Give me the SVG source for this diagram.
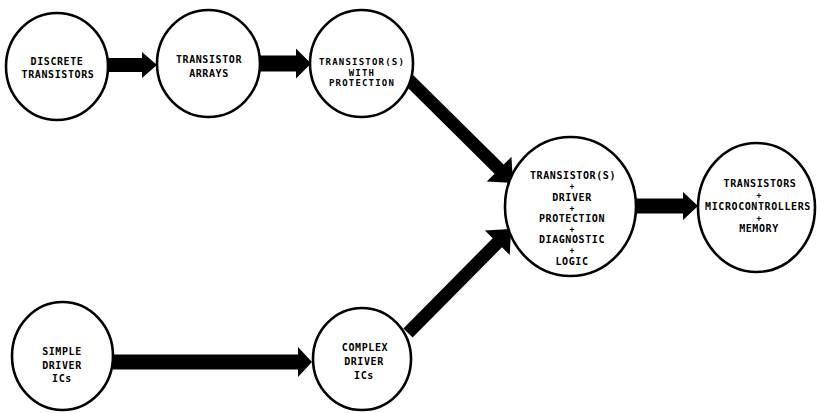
<svg xmlns="http://www.w3.org/2000/svg" width="817" height="413" viewBox="0 0 817 413">
<style>
.node{fill:#fff;stroke:#000;stroke-width:2.6}
.lbl{font-family:"DejaVu Sans Mono","Liberation Mono",monospace;font-weight:bold;font-size:10px;letter-spacing:0.6px;fill:#000;text-anchor:middle}
.sm{font-size:9px;letter-spacing:1.2px}
.plus{font-size:8px;letter-spacing:0}
.arr{fill:#000;stroke:none}
</style>
<rect width="817" height="413" fill="#fff"/>
<g id="connectors">
<polygon class="arr" points="108,58 142,58 142,52 157,65 142,78 142,72 108,72"/>
<polygon class="arr" points="260,55.5 296,55.5 296,48.5 311,63.5 296,78.5 296,71.5 260,71.5"/>
<polygon class="arr" points="113,354.5 298,354.5 298,347 312,362 298,377 298,369.5 113,369.5"/>
<polygon class="arr" points="634,198.5 683,198.5 683,192 698,206 683,220 683,213.5 634,213.5"/>
<g transform="translate(406,77) rotate(44.7)">
<polygon class="arr" points="0,-6.5 131,-6.5 131,-17.5 150.6,0 131,17.5 131,6.5 0,6.5"/>
</g>
<g transform="translate(408,333) rotate(-45.3)">
<polygon class="arr" points="0,-6.5 127,-6.5 127,-17.5 146.4,0 127,17.5 127,6.5 0,6.5"/>
</g>
</g>
<g id="n-discrete">
<ellipse class="node" cx="57" cy="66.5" rx="51" ry="53.5"/>
<text class="lbl" x="57" y="65">DISCRETE</text>
<text class="lbl" x="58" y="77.5">TRANSISTORS</text>
</g>
<g id="n-arrays">
<ellipse class="node" cx="208.5" cy="63.5" rx="51.5" ry="53.5"/>
<text class="lbl" x="209" y="63">TRANSISTOR</text>
<text class="lbl" x="209" y="76.5">ARRAYS</text>
</g>
<g id="n-protection">
<ellipse class="node" cx="361.5" cy="63.5" rx="51.5" ry="53.5"/>
<text class="lbl sm" x="362" y="65">TRANSISTOR(S)</text>
<text class="lbl sm" x="362" y="75.5">WITH</text>
<text class="lbl sm" x="362" y="86">PROTECTION</text>
</g>
<g id="n-integrated">
<ellipse class="node" cx="570.5" cy="206.5" rx="65.5" ry="69.5"/>
<text class="lbl" x="573" y="179">TRANSISTOR(S)</text>
<text class="lbl plus" x="572" y="189">+</text>
<text class="lbl" x="572" y="201">DRIVER</text>
<text class="lbl plus" x="572" y="211">+</text>
<text class="lbl" x="572" y="221.5">PROTECTION</text>
<text class="lbl plus" x="572" y="231.5">+</text>
<text class="lbl" x="572" y="242.5">DIAGNOSTIC</text>
<text class="lbl plus" x="572" y="252.5">+</text>
<text class="lbl" x="572" y="265">LOGIC</text>
</g>
<g id="n-micro">
<ellipse class="node" cx="756.5" cy="207.5" rx="58.5" ry="64.5"/>
<text class="lbl" x="760" y="187">TRANSISTORS</text>
<text class="lbl plus" x="759" y="198">+</text>
<text class="lbl" x="758" y="210">MICROCONTROLLERS</text>
<text class="lbl plus" x="759" y="221">+</text>
<text class="lbl" x="759" y="232">MEMORY</text>
</g>
<g id="n-simple">
<ellipse class="node" cx="62.5" cy="356" rx="50.5" ry="54"/>
<text class="lbl" x="62" y="355">SIMPLE</text>
<text class="lbl" x="62" y="369">DRIVER</text>
<text class="lbl" x="62" y="382">ICs</text>
</g>
<g id="n-complex">
<ellipse class="node" cx="362" cy="359" rx="49" ry="51"/>
<text class="lbl" x="365" y="351">COMPLEX</text>
<text class="lbl" x="364" y="365">DRIVER</text>
<text class="lbl" x="364" y="379">ICs</text>
</g>
</svg>
